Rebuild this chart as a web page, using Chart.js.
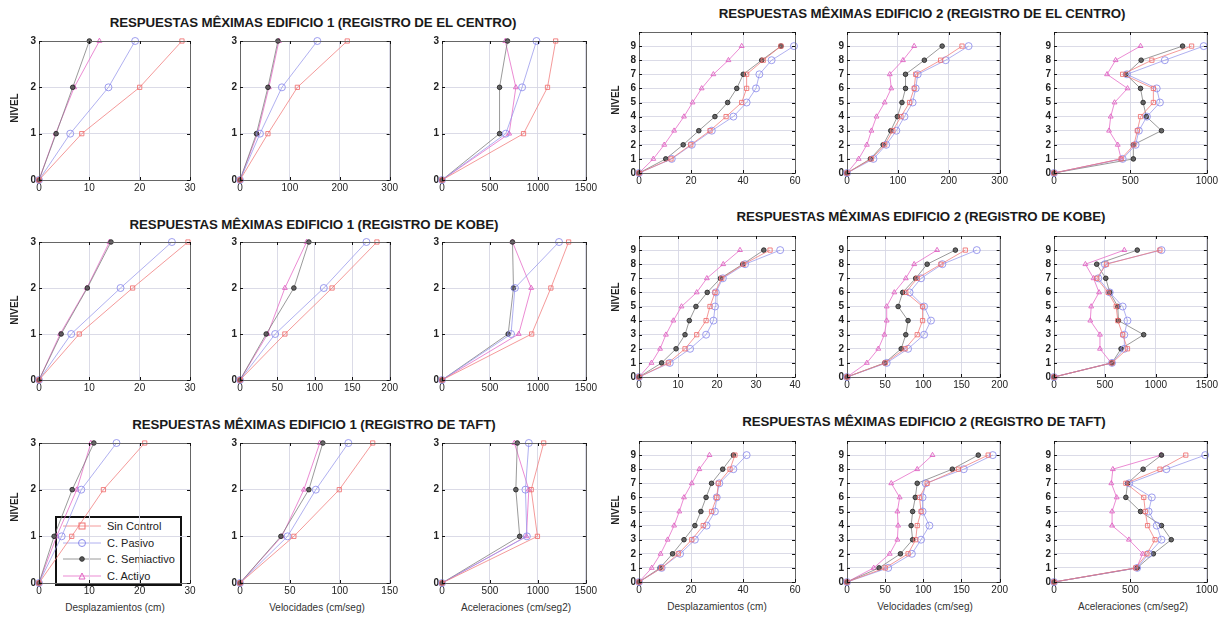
<!DOCTYPE html>
<html>
<head>
<meta charset="utf-8">
<script src="https://cdn.jsdelivr.net/npm/chart.js@4.4.1/dist/chart.umd.min.js"></script>
<style>
body { margin: 0; background: #fff; width: 1230px; height: 618px; position: relative; overflow: hidden; font-family: "Liberation Sans", Arial, sans-serif; }
.panel { position: absolute; }
.titulo { position: absolute; width: 600px; text-align: center; font-weight: bold; font-size: 13.3px; letter-spacing: -0.1px; color: #1a1a1a; transform: translateY(-50%); white-space: nowrap; }
.nivel { position: absolute; font-size: 10px; font-weight: bold; color: #222; transform: translate(-50%, -50%) rotate(-90deg); }
.xlab { position: absolute; font-size: 10px; color: #333; transform: translate(-50%, -50%); white-space: nowrap; }
#leyenda { position: absolute; left: 55px; top: 516px; width: 123px; height: 66px; border: 2px solid #111; background: #fff; font-size: 11px; color: #222; }
#leyenda div { height: 16.5px; display: flex; align-items: center; }
#leyenda svg { margin: 0 4px 0 4px; }
</style>
</head>
<body>
<div id="leyenda"></div>
<script>
// Series (same order in every panel)
const SERIES = ['Sin Control', 'C. Pasivo', 'C. Semiactivo', 'C. Activo'];
const NIVELES_E1 = [0, 1, 2, 3];
const NIVELES_E2 = [0, 1, 2, 3, 4, 5, 6, 7, 8, 9];

// Edificio 1 (rows: Sin Control, Pasivo, Semiactivo, Activo)
const e1CentroDesp = [[0, 8.5, 20, 28.4], [0, 6.2, 13.8, 19.1], [0, 3.4, 6.7, 10], [0, 3.3, 7.0, 12]];
const e1CentroVel = [[0, 56, 115, 215], [0, 40, 84, 155], [0, 33, 56, 76], [0, 35, 58, 78]];
const e1CentroAcel = [[0, 850, 1100, 1185], [0, 665, 835, 985], [0, 600, 600, 683], [0, 700, 770, 660]];
const e1KobeDesp = [[0, 8, 18.6, 29.6], [0, 6.4, 16.2, 26.4], [0, 4.4, 9.6, 14.3], [0, 4.2, 9.5, 14]];
const e1KobeVel = [[0, 60, 123, 183], [0, 47, 112, 169], [0, 35, 72, 92], [0, 37, 60, 89]];
const e1KobeAcel = [[0, 935, 1135, 1320], [0, 720, 760, 1220], [0, 690, 745, 735], [0, 800, 930, 735]];
const e1TaftDesp = [[0, 6.5, 12.8, 21], [0, 4.5, 8.4, 15.4], [0, 3, 6.6, 10.9], [0, 3.5, 7.5, 10.3]];
const e1TaftVel = [[0, 54, 99.5, 133], [0, 47.7, 76, 108.6], [0, 41, 69, 83], [0, 42, 64, 80]];
const e1TaftAcel = [[0, 995, 930, 1060], [0, 885, 870, 905], [0, 810, 770, 785], [0, 880, 905, 755]];

// Edificio 2
const e2CentroDesp = [
  [0, 12.3, 19.9, 27.3, 33.5, 39.5, 41.4, 41.4, 47.8, 54.6],
  [0, 12.6, 20.3, 28, 36.3, 41.4, 45, 46.3, 51, 59.6],
  [0, 10.3, 17, 23, 29.2, 34.1, 37.6, 40.1, 47.2, 54.6],
  [0, 5.5, 9.7, 13.5, 17.3, 20.6, 24.1, 28.6, 34.4, 39.5]
];
const e2CentroVel = [
  [0, 48, 74, 90, 106, 123, 132, 135, 184, 226],
  [0, 52, 77, 97, 113, 129, 135, 139, 194, 239],
  [0, 46, 71, 86, 99, 108, 115, 115, 152, 187],
  [0, 23, 39, 48, 58, 74, 87, 84, 110, 132]
];
const e2CentroAcel = [
  [0, 439, 523, 545, 566, 650, 650, 449, 640, 900],
  [0, 449, 534, 555, 608, 693, 672, 477, 725, 979],
  [0, 519, 519, 703, 604, 583, 566, 470, 570, 841],
  [0, 439, 417, 360, 371, 396, 481, 347, 403, 566]
];
const e2KobeDesp = [
  [0, 7.5, 11.8, 14.8, 17.2, 18.2, 19.5, 21.2, 26.8, 33.6],
  [0, 7.9, 13.1, 17.2, 19.1, 19.5, 19.7, 21.5, 27.2, 36.2],
  [0, 5.8, 9.5, 11.8, 12.9, 14.6, 17.5, 20.9, 26.6, 32],
  [0, 3.2, 5.4, 6.9, 8.8, 10.9, 14.8, 17.4, 21.6, 25.9]
];
const e2KobeVel = [
  [0, 50, 76, 92, 99, 99, 77, 92, 123, 155],
  [0, 52, 80, 101, 110, 101, 82, 97, 125, 170],
  [0, 49.5, 71, 77, 80, 67, 73, 90, 105, 142],
  [0, 26, 41, 49, 52, 52, 62, 77, 88, 118]
];
const e2KobeAcel = [
  [0, 569, 721, 674, 626, 610, 531, 419, 515, 1039],
  [0, 569, 690, 690, 721, 674, 547, 435, 499, 1055],
  [0, 569, 658, 880, 632, 626, 547, 508, 419, 817],
  [0, 562, 451, 451, 356, 365, 442, 388, 308, 690]
];
const e2TaftDesp = [
  [0, 8.7, 15.1, 20.3, 24.7, 27.9, 29.9, 30.5, 35, 36.9],
  [0, 8.7, 15.8, 21.5, 26, 29.2, 29.9, 30.9, 36.3, 41.4],
  [0, 8.1, 12.9, 17.3, 21.5, 23.8, 25.8, 27.9, 32.2, 36.3],
  [0, 4.9, 8.3, 11, 13.5, 15.5, 17.3, 20.3, 23.2, 27.1]
];
const e2TaftVel = [
  [0, 50, 80, 90, 92, 97, 95, 105, 146, 185],
  [0, 54, 85, 97, 108, 99, 99, 103, 153, 191],
  [0, 42, 70, 86, 84, 86, 89.5, 92, 138, 172],
  [0, 35, 56, 66, 67, 66, 69, 58, 92, 112]
];
const e2TaftAcel = [
  [0, 534, 608, 661, 612, 597, 587, 470, 693, 862],
  [0, 544, 619, 703, 672, 619, 640, 492, 735, 989],
  [0, 544, 650, 767, 703, 566, 470, 481, 583, 703],
  [0, 540, 580, 490, 380, 380, 410, 375, 385, 700]
];

// Axis limits / tick steps per panel: [desp, vel, acel]
const e1XMax = [[30, 300, 1500], [30, 200, 1500], [30, 150, 1500]];
const e1XStep = [[10, 100, 500], [10, 50, 500], [10, 50, 500]];
const e2XMax = [[60, 300, 1000], [40, 200, 1500], [60, 200, 1000]];
const e2XStep = [[20, 100, 500], [10, 50, 500], [20, 50, 500]];

const TITULOS_E1 = ['RESPUESTAS MÊXIMAS EDIFICIO 1 (REGISTRO DE EL CENTRO)', 'RESPUESTAS MÊXIMAS EDIFICIO 1 (REGISTRO DE KOBE)', 'RESPUESTAS MÊXIMAS EDIFICIO 1 (REGISTRO DE TAFT)'];
const TITULOS_E2 = ['RESPUESTAS MÊXIMAS EDIFICIO 2 (REGISTRO DE EL CENTRO)', 'RESPUESTAS MÊXIMAS EDIFICIO 2 (REGISTRO DE KOBE)', 'RESPUESTAS MÊXIMAS EDIFICIO 2 (REGISTRO DE TAFT)'];
const XLABELS = ['Desplazamientos (cm)', 'Velocidades (cm/seg)', 'Aceleraciones (cm/seg2)'];

// Series styles (pale, like the scanned original)
const ESTILOS = [
  { line: 'rgba(240,120,120,0.75)', point: 'rgba(240,110,110,0.85)', fill: 'rgba(255,255,255,0)', style: 'rect', r: 3 },
  { line: 'rgba(150,150,235,0.75)', point: 'rgba(140,140,235,0.85)', fill: 'rgba(255,255,255,0)', style: 'circle', r: 3.5 },
  { line: 'rgba(120,120,120,0.75)', point: 'rgba(40,40,40,0.9)', fill: 'rgba(80,80,80,0.85)', style: 'circle', r: 2.3 },
  { line: 'rgba(230,110,200,0.8)', point: 'rgba(225,100,195,0.9)', fill: 'rgba(255,255,255,0)', style: 'triangle', r: 2.8 }
];

// Layout (plot areas in page pixels)
const E1_COLS = [[39, 190], [240, 392], [442, 591]];
const E1_ROWS = [[38, 180], [239, 380], [440, 583]];
const E2_COLS = [[639, 795], [847, 1002], [1054, 1212]];
const E2_ROWS = [[29, 173], [233, 377], [438, 582]];
const YW = 20, PT = 6, PR = 8, XH = 16;

const marco = {
  id: 'marco',
  afterDraw(chart) {
    const { ctx, chartArea: a, scales } = chart;
    ctx.save();
    ctx.strokeStyle = '#666';
    ctx.lineWidth = 1;
    ctx.strokeRect(Math.round(a.left) + 0.5, Math.round(a.top) + 0.5, Math.round(a.right - a.left), Math.round(a.bottom - a.top));
    ctx.strokeStyle = '#111';
    ctx.beginPath();
    scales.x.ticks.forEach(t => {
      const px = Math.round(scales.x.getPixelForValue(t.value)) + 0.5;
      ctx.moveTo(px, a.bottom); ctx.lineTo(px, a.bottom - 3);
      ctx.moveTo(px, a.top); ctx.lineTo(px, a.top + 3);
    });
    scales.y.ticks.forEach(t => {
      const py = Math.round(scales.y.getPixelForValue(t.value)) + 0.5;
      ctx.moveTo(a.left, py); ctx.lineTo(a.left + 3, py);
      ctx.moveTo(a.right, py); ctx.lineTo(a.right - 3, py);
    });
    ctx.stroke();
    ctx.restore();
  }
};

function panel(cols, rows, niveles, yMax, xMax, xStep, valores) {
  const [x0, x1] = cols, [y0, y1] = rows;
  const div = document.createElement('div');
  div.className = 'panel';
  div.style.left = (x0 - YW) + 'px';
  div.style.top = (y0 - PT) + 'px';
  div.style.width = (YW + (x1 - x0) + PR) + 'px';
  div.style.height = (PT + (y1 - y0) + XH) + 'px';
  const cv = document.createElement('canvas');
  div.appendChild(cv);
  document.body.appendChild(div);
  new Chart(cv, {
    type: 'line',
    data: {
      datasets: valores.map((serie, i) => ({
        label: SERIES[i],
        data: serie.map((v, k) => ({ x: v, y: niveles[k] })),
        borderColor: ESTILOS[i].line,
        borderWidth: 1,
        pointStyle: ESTILOS[i].style,
        pointRadius: ESTILOS[i].r,
        pointBorderColor: ESTILOS[i].point,
        pointBackgroundColor: ESTILOS[i].fill,
        pointBorderWidth: 1,
        clip: false,
        tension: 0
      }))
    },
    options: {
      responsive: true,
      maintainAspectRatio: false,
      animation: false,
      layout: { padding: { top: PT, right: PR, left: 0, bottom: 0 } },
      plugins: { legend: { display: false }, tooltip: { enabled: false } },
      scales: {
        x: {
          type: 'linear', min: 0, max: xMax,
          ticks: { stepSize: xStep, autoSkip: false, maxRotation: 0, padding: 2, color: '#222', font: { family: 'Liberation Sans', size: 10 },
            callback: v => String(v) },
          grid: { color: 'rgba(215,215,228,0.9)', drawTicks: false },
          border: { display: false },
          afterFit: s => { s.height = XH; }
        },
        y: {
          type: 'linear', min: 0, max: yMax,
          ticks: { stepSize: 1, autoSkip: false, padding: 3, color: '#222', font: { family: 'Liberation Sans', size: 10, weight: 'bold' },
            callback: v => (v > 9 ? '' : String(v)) },
          grid: { color: 'rgba(215,215,228,0.9)', drawTicks: false },
          border: { display: false },
          afterFit: s => { s.width = YW; }
        }
      }
    },
    plugins: [marco]
  });
}

function texto(cls, txt, left, top) {
  const d = document.createElement('div');
  d.className = cls;
  d.textContent = txt;
  d.style.left = left + 'px';
  d.style.top = top + 'px';
  document.body.appendChild(d);
}

const E1_DATOS = [[e1CentroDesp, e1CentroVel, e1CentroAcel], [e1KobeDesp, e1KobeVel, e1KobeAcel], [e1TaftDesp, e1TaftVel, e1TaftAcel]];
const E2_DATOS = [[e2CentroDesp, e2CentroVel, e2CentroAcel], [e2KobeDesp, e2KobeVel, e2KobeAcel], [e2TaftDesp, e2TaftVel, e2TaftAcel]];

for (let r = 0; r < 3; r++) {
  for (let c = 0; c < 3; c++) {
    panel(E1_COLS[c], E1_ROWS[r], NIVELES_E1, 3, e1XMax[r][c], e1XStep[r][c], E1_DATOS[r][c]);
    panel(E2_COLS[c], E2_ROWS[r], NIVELES_E2, 10, e2XMax[r][c], e2XStep[r][c], E2_DATOS[r][c]);
  }
}

// Titles and labels
[[313, 22], [314, 224], [314, 424]].forEach((p, i) => texto('titulo', TITULOS_E1[i], p[0] - 300, p[1]));
[[922, 13], [921, 216], [924, 421]].forEach((p, i) => texto('titulo', TITULOS_E2[i], p[0] - 300, p[1]));
[[14, 108], [14, 310], [14, 507]].forEach(p => texto('nivel', 'NIVEL', p[0], p[1]));
[[615, 100], [615, 297], [615, 510]].forEach(p => texto('nivel', 'NIVEL', p[0], p[1]));
[115, 317, 516].forEach((x, i) => texto('xlab', XLABELS[i], x, 607));
[717, 925, 1133].forEach((x, i) => texto('xlab', XLABELS[i], x, 606));

// Legend (HTML, drawn over the first Taft panel like the original)
const leg = document.getElementById('leyenda');
const MARCAS = [
  '<rect x="18" y="4" width="6" height="6" fill="none" stroke="rgb(240,110,110)"/>',
  '<circle cx="21" cy="7" r="3.5" fill="none" stroke="rgb(140,140,235)"/>',
  '<circle cx="21" cy="7" r="2.3" fill="#555" stroke="#333"/>',
  '<polygon points="21,4 24,10 18,10" fill="none" stroke="rgb(225,100,195)"/>'
];
SERIES.forEach((s, i) => {
  const row = document.createElement('div');
  row.innerHTML = '<svg width="42" height="14"><line x1="2" y1="7" x2="40" y2="7" stroke="' + ESTILOS[i].line + '" stroke-width="1"/>' + MARCAS[i] + '</svg><span>' + s + '</span>';
  leg.appendChild(row);
});
</script>
</body>
</html>
